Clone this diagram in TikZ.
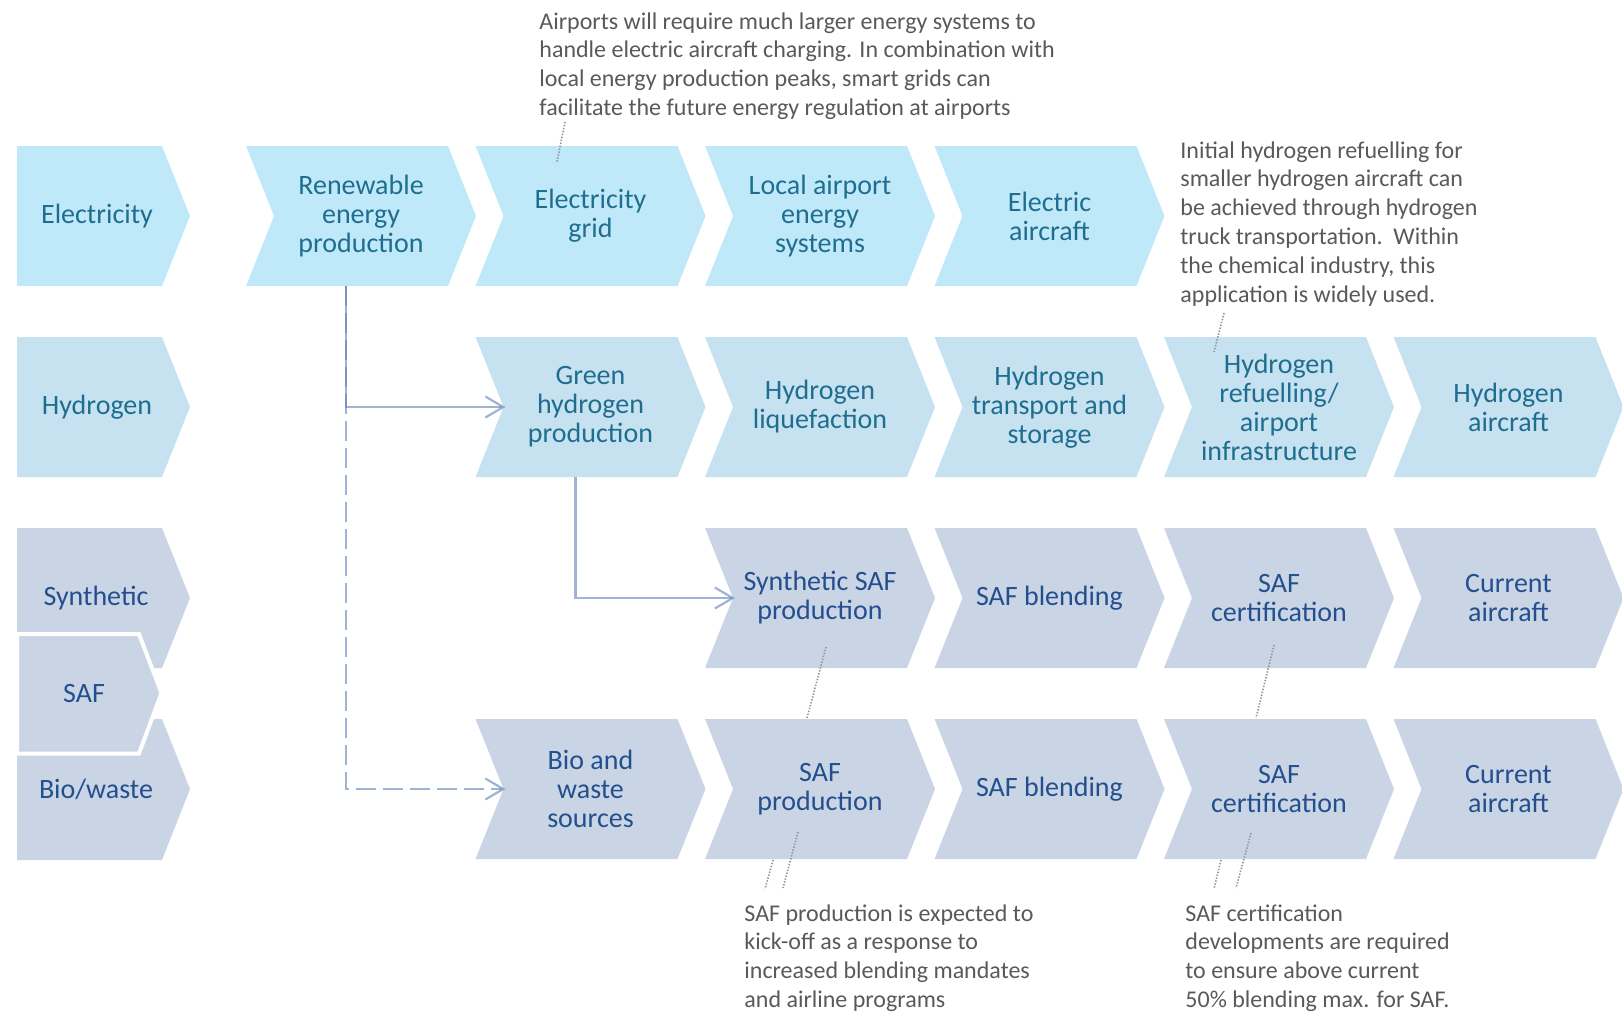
\documentclass[tikz,border=0pt]{standalone}
\usepackage{fontspec}
\setmainfont{Carlito}
\usepackage{tikz}
\usetikzlibrary{calc,positioning,backgrounds,arrows.meta}

\definecolor{elecfill}{HTML}{BFE9F9}
\definecolor{hydfill}{HTML}{C6E2F1}
\definecolor{saffill}{HTML}{C9D5E5}
\definecolor{tealtext}{HTML}{1F6E8F}
\definecolor{navytext}{HTML}{244F8E}
\definecolor{notegray}{HTML}{595959}
\definecolor{linkblue}{HTML}{5F80B6}

\begin{document}
\begin{tikzpicture}
      [x=0.5pt, y=-0.5pt,
      node distance=25.5pt and -0.25pt,
      stage/.style={rectangle, inner sep=0pt, outer sep=0pt, minimum width=115pt, minimum height=70pt,
        align=center, font=\fontsize{14}{14.5}\selectfont},
      elec/.style={stage, text=tealtext},
      saf/.style={stage, text=navytext},
      side/.style={inner sep=0pt, align=center, font=\fontsize{14}{14.5}\selectfont},
      note/.style={anchor=north west, inner sep=0pt, align=left, text=notegray,
        font=\fontsize{12}{14.4}\selectfont},
      leader/.style={draw=gray!85, line width=0.8pt, dash pattern=on 0.7pt off 0.8pt},
      link/.style={draw=linkblue, draw opacity=0.6, line width=1.1pt,
        -{Straight Barb[length=9pt,width=10.5pt]}},
      ]
      \useasboundingbox (0,0) rectangle (1622,1013);

      % left column
      \fill[elecfill] (17,146) -- (162,146) -- (190,216) -- (162,286) -- (17,286) -- cycle;
      \fill[hydfill] (17,337) -- (162,337) -- (190,407) -- (162,477) -- (17,477) -- cycle;
      \fill[saffill] (17,528) -- (162,528) -- (190,598) -- (162,668) -- (17,668) -- cycle;
      \fill[saffill] (17,719) -- (162,719) -- (190,789) -- (162,860) -- (17,860) -- cycle;
      \filldraw[fill=saffill, draw=white, line width=2pt]
        (17,634) -- (139,634) -- (161.5,693) -- (139,753.5) -- (17,753.5) -- cycle;
      \node[side, text=tealtext] (lelec) at (97,216) {Electricity};
      \node[side, text=tealtext] (lhyd) at (97,407) {Hydrogen};
      \node[side, text=navytext] (lsyn) at (96,598) {Synthetic};
      \node[side, text=navytext] (lsaf) at (84,693) {SAF};
      \node[side, text=navytext] (lbio) at (96,789) {Bio/waste};

      % electricity
      \node[elec] (ren) at (361,216) {Renewable\\energy\\production};
      \node[elec, right=of ren] (grid) {Electricity\\grid};
      \node[elec, right=of grid] (local) {Local airport\\energy\\systems};
      \node[elec, right=of local] (eair) {Electric\\aircraft};

      % hydrogen
      \node[elec, below=of grid] (gh) {Green\\hydrogen\\production};
      \node[elec, right=of gh] (liq) {Hydrogen\\liquefaction};
      \node[elec, right=of liq] (trans) {Hydrogen\\transport and\\storage};
      \node[elec, right=of trans] (refuel) {Hydrogen\\refuelling/\\airport\\infrastructure};
      \node[elec, right=of refuel] (hair) {Hydrogen\\aircraft};

      % SAF
      \node[saf, below=of liq] (synprod) {Synthetic SAF\\production};
      \node[saf, right=of synprod] (blenda) {SAF blending};
      \node[saf, right=of blenda] (certa) {SAF\\certification};
      \node[saf, right=of certa] (cura) {Current\\aircraft};
      \node[saf, below=of synprod] (safprod) {SAF\\production};
      \node[saf, left=of safprod] (bio) {Bio and\\waste\\sources};
      \node[saf, right=of safprod] (blendb) {SAF blending};
      \node[saf, right=of blendb] (certb) {SAF\\certification};
      \node[saf, right=of certb] (curb) {Current\\aircraft};

      \begin{scope}[on background layer]
        \foreach \n/\c in {ren/elecfill, grid/elecfill, local/elecfill, eair/elecfill,
            gh/hydfill, liq/hydfill, trans/hydfill, refuel/hydfill, hair/hydfill,
            synprod/saffill, blenda/saffill, certa/saffill, cura/saffill,
            bio/saffill, safprod/saffill, blendb/saffill, certb/saffill, curb/saffill}
          \fill[\c] (\n.north west) -- ($(\n.north east)+(-28,0)$) -- (\n.east)
            -- ($(\n.south east)+(-28,0)$) -- (\n.south west) -- ($(\n.west)+(28,0)$) -- cycle;
      \end{scope}

      % connectors
      \draw[link] ($(ren.south)+(-15,0)$) |- ($(gh.west)+(30,0)$);
      \draw[link, dash pattern=on 10pt off 3.5pt] ($(ren.south)+(-15,0)$) |- ($(bio.west)+(30,0)$);
      \draw[link] ($(gh.south)+(-15,0)$) |- ($(synprod.west)+(30,0)$);

      % notes
      \node[note] (ngrid) at (539,12) {Airports will require much larger energy systems to\\
        handle electric aircraft charging. In combination with\\
        local energy production peaks, smart grids can\\
        facilitate the future energy regulation at airports};
      \node[note] (nrefuel) at (1180,141) {Initial hydrogen refuelling for\\
        smaller hydrogen aircraft can\\
        be achieved through hydrogen\\
        truck transportation.\ \ Within\\
        the chemical industry, this\\
        application is widely used.};
      \node[note] (nprod) at (744,904) {SAF production is expected to\\
        kick-off as a response to\\
        increased blending mandates\\
        and airline programs};
      \node[note] (ncert) at (1185,904) {SAF certification\\
        developments are required\\
        to ensure above current\\
        50\% blending max. for SAF.};

      % leader lines
      \coordinate (ga) at (565,122); \coordinate (gb) at (557,162);
      \coordinate (ra) at (1224,313); \coordinate (rb) at (1214,352);
      \coordinate (pa) at (826,647); \coordinate (pb) at (807,718);
      \coordinate (pc) at (798,832); \coordinate (pd) at (783,888);
      \coordinate (pe) at (773,860); \coordinate (pf) at (765,889);
      \coordinate (ca) at (1274,645); \coordinate (cb) at (1256,718);
      \coordinate (cc) at (1251,833); \coordinate (cd) at (1236,888);
      \coordinate (ce) at (1221,860); \coordinate (cf) at (1214,889);
      \foreach \a/\b in {ga/gb, ra/rb, pa/pb, pc/pd, pe/pf, ca/cb, cc/cd, ce/cf}
        \draw[leader] (\a) -- (\b);
\end{tikzpicture}
\end{document}
